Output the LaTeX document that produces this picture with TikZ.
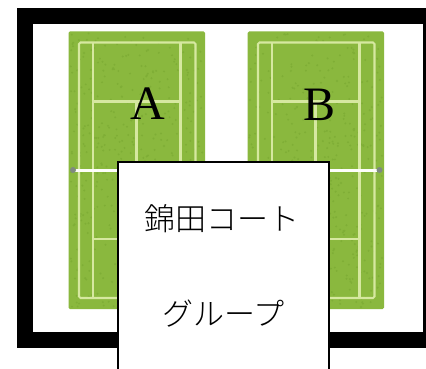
\documentclass[tikz,border=0pt]{standalone}
\usepackage{fontspec}
\setmainfont{Liberation Serif}
\newfontfamily\cjk{Noto Sans CJK JP Light}
\definecolor{grass}{HTML}{8AB83E}
\definecolor{grassdark}{HTML}{7FAE36}
\definecolor{courtline}{HTML}{D6E8A0}
\definecolor{postgray}{HTML}{7F8A80}
\tikzset{
  x=1pt,y=-1pt,
  turf/.style={fill=grass,rounded corners=1.5pt},
  speck/.style={fill=grassdark},
  lineout/.style={draw=courtline,line width=2.1pt},
  netline/.style={draw=white!95!courtline,line width=3pt},
  post/.style={circle,fill=postgray,inner sep=0pt,minimum size=6pt},
  letter/.style={font=\fontsize{48}{48}\selectfont,inner sep=0pt},
  jptext/.style={font=\cjk\fontsize{31}{32}\selectfont,inner sep=0pt},
}
\newcommand{\tenniscourt}[1]{%
  \begin{scope}[xshift=#1 pt]
    \fill[turf] (68.5,31.5) rectangle (205,309);
    \foreach \i in {1,...,450}{
      \pgfmathsetmacro{\px}{70+rnd*133}
      \pgfmathsetmacro{\py}{33+rnd*274}
      \fill[speck] (\px,\py) circle[radius=1.1pt];
    }
    \draw[lineout,rounded corners=1.5pt] (79,42.5) rectangle (195.5,298);
    \draw[lineout] (93,42.5) -- (93,298);
    \draw[lineout] (180.5,42.5) -- (180.5,298);
    \draw[lineout] (93,101.5) -- (180.5,101.5);
    \draw[lineout] (93,239) -- (180.5,239);
    \draw[lineout] (136.5,101.5) -- (136.5,239);
    \draw[netline] (73,170) -- (200.5,170);
    \node[post] at (73,170) {};
    \node[post] at (200.5,170) {};
  \end{scope}}
\begin{document}
\begin{tikzpicture}
\pgfmathsetseed{42}
\useasboundingbox (0,0) rectangle (426,369);
\fill[white] (0,0) rectangle (426,369);
\fill[black] (17,8) rectangle (426,348);
\fill[white] (33,24) rectangle (423,332);
\tenniscourt{0}
\tenniscourt{179}
\node[letter] (labelA) at (147.5,103.5) {A};
\node[letter] (labelB) at (319.5,105) {B};
\draw[black,line width=2pt,fill=white] (117.5,371) -- (117.5,161.5) -- (329,161.5) -- (329,371);
\node[jptext] (title1) at (222,218.5) {錦田コート};
\node[jptext] (title2) at (223.5,314) {グループ};
\end{tikzpicture}
\end{document}
